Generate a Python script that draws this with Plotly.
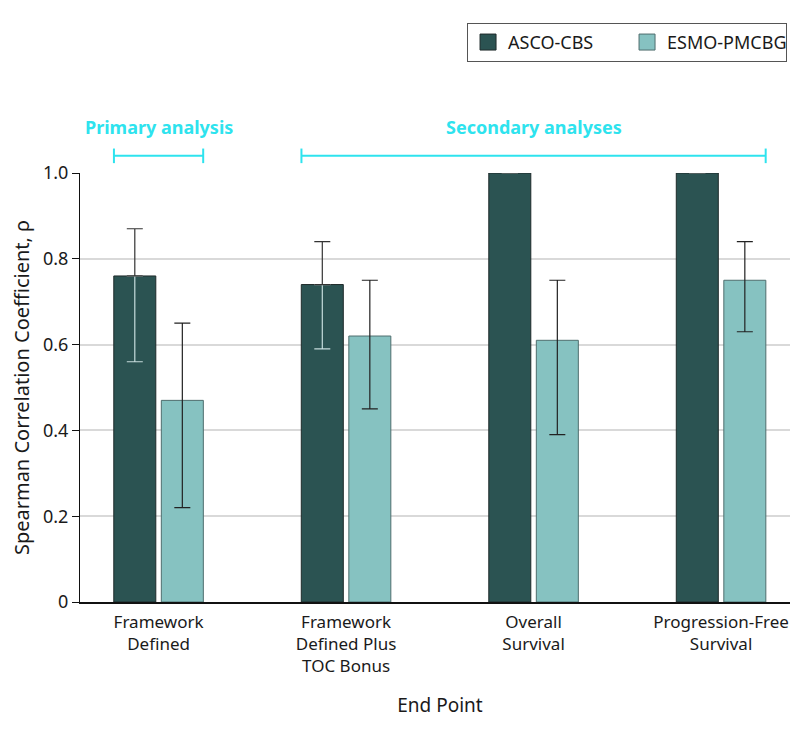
import plotly.graph_objects as go

# end points (tick labels) and Spearman rho with 95% CI
end_points = ["Framework<br>Defined", "Framework<br>Defined Plus<br>TOC Bonus",
              "Overall<br>Survival", "Progression-Free<br>Survival"]
asco_rho = [0.76, 0.74, 1.0, 1.0]
asco_hi = [0.87, 0.84, 1.0, 1.0]
asco_lo = [0.56, 0.59, 1.0, 1.0]
esmo_rho = [0.47, 0.62, 0.61, 0.75]
esmo_hi = [0.65, 0.75, 0.75, 0.84]
esmo_lo = [0.22, 0.45, 0.39, 0.63]

x = list(range(len(end_points)))
DARK = "#2b5352"
LIGHT = "#86c2c1"
CYAN = "#2ee3ee"
FONT = "Noto Sans, Roboto, sans-serif"

up = lambda v, h: [b - a for a, b in zip(v, h)]
dn = lambda v, l: [a - b for a, b in zip(v, l)]

fig = go.Figure()
# lower half of the ASCO CI drawn light, since it sits inside the dark bar
fig.add_trace(go.Bar(
    x=x, y=asco_rho, offsetgroup="a", showlegend=False, hoverinfo="skip",
    marker=dict(color=DARK, line=dict(color="#1f2b2b", width=1)),
    error_y=dict(type="data", symmetric=False, array=[0] * len(x),
                 arrayminus=dn(asco_rho, asco_lo), color="#c6dcdc", thickness=1.2, width=8),
))
fig.add_trace(go.Bar(
    x=x, y=asco_rho, offsetgroup="a", showlegend=False, hoverinfo="skip",
    marker=dict(color="rgba(0,0,0,0)", line=dict(width=0)),
    error_y=dict(type="data", symmetric=False, array=up(asco_rho, asco_hi),
                 arrayminus=[0] * len(x), color="#333333", thickness=1.2, width=8),
))
fig.add_trace(go.Bar(
    x=x, y=esmo_rho, offsetgroup="b", showlegend=False,
    marker=dict(color=LIGHT, line=dict(color="#4f6e6e", width=1)),
    error_y=dict(type="data", symmetric=False, array=up(esmo_rho, esmo_hi),
                 arrayminus=dn(esmo_rho, esmo_lo), color="#222222", thickness=1.2, width=8),
))
# legend entries with bigger swatches
for name, col, edge in [("ASCO-CBS", DARK, "#1f2b2b"), ("ESMO-PMCBG", LIGHT, "#4f6e6e")]:
    fig.add_trace(go.Scatter(x=[None], y=[None], mode="markers", name=name,
                             marker=dict(symbol="square", size=16, color=col,
                                         line=dict(color=edge, width=1))))

# brackets above the plot
brackets = [(0, 0, "Primary analysis"), (1, 3, "Secondary analyses")]
for a, b, label in brackets:
    x0, x1 = a - 0.238, b + 0.238
    fig.add_shape(type="line", xref="x", yref="paper", x0=x0, x1=x1, y0=1.04, y1=1.04,
                  line=dict(color=CYAN, width=2))
    for xe in (x0, x1):
        fig.add_shape(type="line", xref="x", yref="paper", x0=xe, x1=xe, y0=1.023, y1=1.057,
                      line=dict(color=CYAN, width=2))
    fig.add_annotation(x=(x0 + x1) / 2, xref="x", y=1.107, yref="paper", text=label,
                       yanchor="middle", showarrow=False,
                       font=dict(family=FONT, size=18, color=CYAN, weight="bold"))

# page body adds an 8px offset, so margins are shifted by 8 to compensate
fig.update_layout(
    width=798, height=735,
    barmode="group", bargap=0.493, bargroupgap=0.116,
    plot_bgcolor="white", paper_bgcolor="white",
    font=dict(family=FONT, size=17, color="#1a1a1a"),
    margin=dict(l=72, r=6, t=165, b=141),
    legend=dict(orientation="h", x=0.982, xanchor="right", y=1.35, yanchor="top",
                bordercolor="#555555", borderwidth=1, font=dict(size=18),
                traceorder="normal", entrywidth=114, entrywidthmode="pixels",
                itemwidth=30),
    showlegend=True,
)
fig.update_xaxes(range=[-0.419, 3.421], tickvals=x, ticktext=end_points,
                 showline=True, linecolor="#111111", linewidth=1.5, showgrid=False,
                 ticks="", ticklabelstandoff=4,
                 title=dict(text="End Point", standoff=22, font=dict(size=19)),
                 zeroline=False)
fig.update_yaxes(range=[0, 1], tickvals=[0, 0.2, 0.4, 0.6, 0.8, 1.0],
                 ticktext=["0", "0.2", "0.4", "0.6", "0.8", "1.0"],
                 showline=True, linecolor="#111111", linewidth=1, ticks="outside",
                 ticklen=7, tickcolor="#111111", showgrid=True, gridcolor="#d9d9d9",
                 gridwidth=1.5, zeroline=False, tickfont=dict(size=18),
                 title=dict(text="Spearman Correlation Coefficient, ρ", standoff=10,
                            font=dict(size=20)))

fig.write_html("out.html")
